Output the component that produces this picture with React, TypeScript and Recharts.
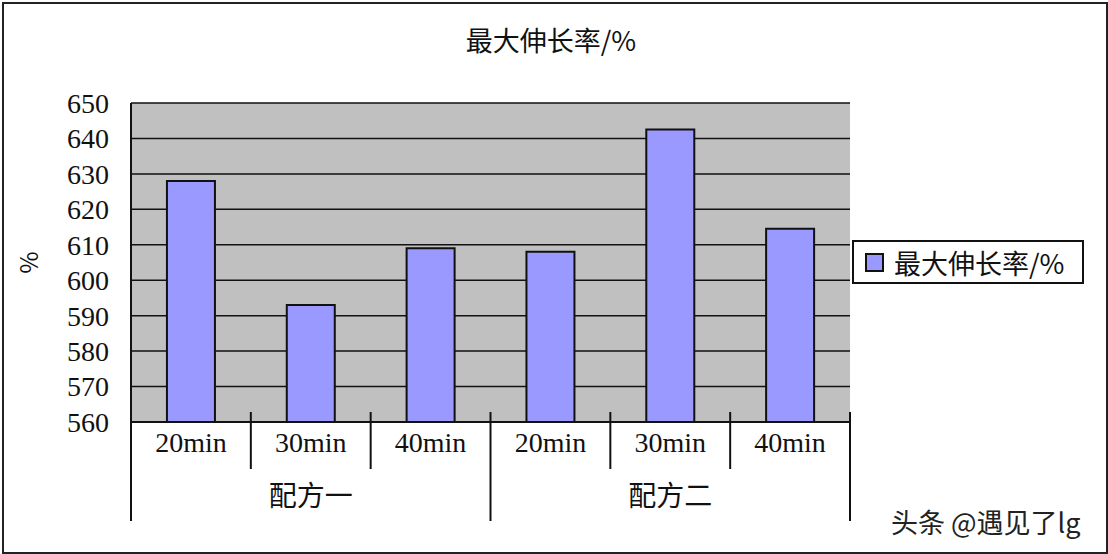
import { BarChart, Bar, XAxis, YAxis, CartesianGrid, Legend } from "recharts";

// 两个配方 × 三个时间
const times = ["20min", "30min", "40min", "20min", "30min", "40min"];
const groups = ["配方一", "配方一", "配方一", "配方二", "配方二", "配方二"];
const elongation = [628, 593, 609, 608, 642.5, 614.5];
const yTicks = [560, 570, 580, 590, 600, 610, 620, 630, 640, 650];

const SERIES = "最大伸长率/%";
const CJK = '"Noto Sans CJK SC", "Noto Sans", sans-serif';
const SERIF = '"Liberation Serif", "DejaVu Serif", serif';

const W = 1108;
const H = 554;
const MARGIN = { top: 103, right: 258, bottom: 0, left: 0 };
const Y_W = 131;
const X_H = 132;
const BAND = (W - MARGIN.right - Y_W) / times.length;

const data = times.map((t, i) => ({ time: t, group: groups[i], value: elongation[i] }));

function TimeTick(props: any) {
  const { x, y, payload, index } = props;
  const left = x - BAND / 2;
  const right = x + BAND / 2;
  const major = index % 3 === 0;
  const last = index === times.length - 1;
  return (
    <g>
      <line x1={left} x2={left} y1={y - 10} y2={y + (major ? 99 : 47)} stroke="#111" strokeWidth={2} />
      {last && <line x1={right} x2={right} y1={y - 10} y2={y + 99} stroke="#111" strokeWidth={2} />}
      <text x={x} y={y + 20} textAnchor="middle" dominantBaseline="central" fontFamily={SERIF} fontSize={28} fill="#111">
        {payload.value}
      </text>
      {index % 3 === 1 && (
        <text x={x} y={y + 72} textAnchor="middle" dominantBaseline="central" fontFamily={CJK} fontSize={28} fill="#111">
          {groups[index]}
        </text>
      )}
    </g>
  );
}

function YLabel(props: any) {
  const { viewBox } = props;
  const cy = viewBox.y + viewBox.height / 2;
  return (
    <text x={30} y={cy} transform={`rotate(90, 30, ${cy})`} textAnchor="middle" dominantBaseline="central" fontFamily={CJK} fontSize={24} fill="#111">
      %
    </text>
  );
}

function renderLegend() {
  return (
    <div style={{
      boxSizing: "border-box", width: 232, height: 44, border: "2px solid #111", background: "#fff",
      display: "flex", alignItems: "center", paddingLeft: 11,
    }}>
      <span style={{ boxSizing: "border-box", width: 19, height: 19, background: "#9999ff", border: "2px solid #111", marginRight: 10 }} />
      <span style={{ fontFamily: CJK, fontSize: 27, color: "#111", lineHeight: 1 }}>{SERIES}</span>
    </div>
  );
}

export default function App() {
  return (
    <div style={{ position: "absolute", left: 0, top: 0, width: W, height: H, background: "#fff" }}>
      <div style={{
        position: "absolute", left: 2, top: 2, width: W - 6, height: H - 6,
        border: "2px solid #222", boxSizing: "content-box",
      }} />
      <div style={{
        position: "absolute", left: 0, top: 22, width: 1102, textAlign: "center",
        fontFamily: CJK, fontSize: 27, color: "#111", lineHeight: "36px",
      }}>
        {SERIES}
      </div>
      <div style={{ position: "absolute", left: 0, top: 0 }}>
        <BarChart width={W} height={H} data={data} margin={MARGIN} barCategoryGap="30%">
          <CartesianGrid vertical={false} horizontal stroke="#111" strokeWidth={1.5} fill="#c0c0c0" fillOpacity={1} />
          <XAxis
            dataKey="time"
            height={X_H}
            tickLine={false}
            tickSize={0}
            tickMargin={0}
            interval={0}
            axisLine={{ stroke: "#111", strokeWidth: 2 }}
            tick={<TimeTick />}
          />
          <YAxis
            width={Y_W}
            domain={[560, 650]}
            ticks={yTicks}
            interval={0}
            tickLine={false}
            tickSize={0}
            tickMargin={22}
            axisLine={{ stroke: "#111", strokeWidth: 2 }}
            tick={{ fontFamily: SERIF, fontSize: 28, fill: "#111" }}
            label={<YLabel />}
          />
          <Legend
            layout="horizontal"
            verticalAlign="middle"
            align="center"
            content={renderLegend}
            wrapperStyle={{ left: 852, top: 240, width: 232, height: 44 }}
          />
          <Bar dataKey="value" name={SERIES} fill="#9999ff" stroke="#111" strokeWidth={2} isAnimationActive={false} />
        </BarChart>
      </div>
      <div style={{
        position: "absolute", left: 891, top: 505, fontFamily: CJK, fontSize: 27, color: "#222",
        lineHeight: "34px", textShadow: "1px 1px 0 #fff, -1px -1px 0 #fff", whiteSpace: "nowrap",
      }}>
        头条 @遇见了lg
      </div>
    </div>
  );
}
